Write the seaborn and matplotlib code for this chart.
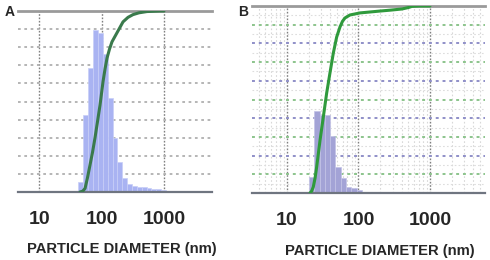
import numpy as np
import pandas as pd
import seaborn as sns
import matplotlib.pyplot as plt
from matplotlib.ticker import FixedLocator, LogLocator, NullFormatter, MultipleLocator

# ---- panel A : intensity distribution (bin centre in nm, relative height) ----
size_a = [46.7, 55.8, 66.8, 80.0, 95.7, 114.6, 137.1, 164.1, 196.3, 235.0,
          281.2, 336.5, 402.7, 482.0, 576.8, 690.2, 826.0, 988.5]
height_a = [0.055, 0.425, 0.685, 0.895, 0.88, 0.76, 0.52, 0.30, 0.165, 0.08,
            0.045, 0.035, 0.03, 0.025, 0.02, 0.018, 0.014, 0.01]
# cumulative curve A
cum_size_a = [45.3, 50.1, 54.5, 59.7, 65.5, 71.8, 78.7, 86.3, 94.6, 105.7, 113.8,
              122.5, 134.3, 147.2, 177.0, 220.8, 265.5, 319.2, 398.0, 534.6, 863.0, 1000.0]
cum_frac_a = [0.0, 0.005, 0.02, 0.08, 0.15, 0.22, 0.30, 0.39, 0.48, 0.61, 0.68,
              0.74, 0.79, 0.83, 0.88, 0.94, 0.965, 0.98, 0.99, 0.997, 1.0, 1.0]

# ---- panel B ----
size_b = [22.1, 26.2, 31.1, 36.9, 43.8, 51.9, 61.5, 72.9, 86.5, 102.6, 240.0, 284.0]
height_b = [0.085, 0.44, 0.417, 0.417, 0.305, 0.14, 0.08, 0.034, 0.025, 0.015, 0.008, 0.008]
cum_size_b = [21.0, 22.1, 23.3, 24.7, 26.0, 29.0, 32.2, 35.9, 39.9, 44.5, 49.5, 55.1,
              59.7, 64.7, 76.0, 105.0, 144.9, 200.0, 282.0, 405.5, 501.0, 560.0, 708.0, 1000.0]
cum_frac_b = [0.0, 0.01, 0.032, 0.08, 0.139, 0.283, 0.406, 0.535, 0.642, 0.749, 0.834, 0.888,
              0.918, 0.936, 0.952, 0.963, 0.968, 0.973, 0.978, 0.984, 0.992, 0.998, 1.0, 1.0]

tick_vals = [10, 100, 1000]
tick_text = ['10', '100', '1000']

sns.set_style("white")
plt.rcParams['font.family'] = ['Liberation Sans', 'DejaVu Sans']

fig = plt.figure(figsize=(4.9, 2.6), dpi=100)
ax_a = fig.add_axes([18 / 490, 68 / 260, 194 / 490, 181 / 260])
ax_b = fig.add_axes([252 / 490, 67 / 260, 233 / 490, 187 / 260])


def panel(ax, sizes, heights, b0, bw, nb, cx, cy, bar_c, edge_c, line_c, xlim, label_x):
    sns.histplot(x=sizes, weights=heights, log_scale=True, binwidth=bw,
                 binrange=(b0, b0 + bw * nb), color=bar_c, alpha=1,
                 edgecolor=edge_c, linewidth=0.5, ax=ax, zorder=2)
    sns.lineplot(x=cx, y=cy, color=line_c, lw=2.2, ax=ax, zorder=3)
    ax.set_xlim(*xlim)
    ax.set_ylim(0, 1)
    ax.set_ylabel('')
    ax.set_yticks(np.arange(0.1, 1.0, 0.1))
    ax.set_yticklabels([])
    ax.tick_params(axis='y', length=0)
    ax.xaxis.set_major_locator(FixedLocator(tick_vals))
    ax.set_xticklabels(tick_text, fontsize=14, fontweight='bold')
    ax.xaxis.set_minor_locator(LogLocator(base=10, subs=np.arange(2, 10)))
    ax.xaxis.set_minor_formatter(NullFormatter())
    ax.tick_params(axis='x', which='major', length=4, width=1, color='#888888', pad=10)
    ax.tick_params(axis='x', which='minor', length=3, width=0.8, color='#aaaaaa')
    ax.set_xlabel('PARTICLE DIAMETER (nm)', fontsize=10.6, fontweight='bold')
    ax.xaxis.set_label_coords(label_x, -0.275)
    for s in ['left', 'right']:
        ax.spines[s].set_visible(False)
    ax.spines['top'].set_color('#9a9a9a')
    ax.spines['top'].set_linewidth(2)
    ax.spines['bottom'].set_color('#6f7580')
    ax.spines['bottom'].set_linewidth(1.6)
    ax.set_axisbelow(True)


panel(ax_a, size_a, height_a, 1.63, 0.078, 19, cum_size_a, cum_frac_a,
      '#a9b3f2', '#c8cef7', '#3a7a4c', (4.6, 5870), 0.536)
panel(ax_b, size_b, height_b, 1.308, 0.074, 16, cum_size_b, cum_frac_b,
      '#a3a3d6', '#c3c3e6', '#2f9a3c', (3.24, 5880), 0.549)

# grids
ax_a.grid(axis='y', which='major', color='#b0b0b0', linestyle=(0, (1.5, 2)), lw=1.3)
ax_a.grid(axis='x', which='major', color='#808080', linestyle=(0, (1.2, 1.2)), lw=1.0)

ax_b.yaxis.set_minor_locator(MultipleLocator(0.05))
ax_b.grid(axis='y', which='minor', color='#dddddd', linestyle=(0, (1.5, 2)), lw=0.8)
ax_b.grid(axis='x', which='minor', color='#d8d8d8', linestyle=(0, (1.5, 2)), lw=0.8)
ax_b.grid(axis='y', which='major', linestyle=(0, (1.5, 2)), lw=1.4)
ax_b.grid(axis='x', which='major', color='#808080', linestyle=(0, (1.2, 1.2)), lw=1.0)
ax_b.tick_params(axis='y', which='minor', length=0)
for i, gl in enumerate(ax_b.yaxis.get_gridlines()):
    gl.set_color('#8cc48c' if i % 2 == 0 else '#8f8fc8')

fig.text(5 / 490, 1 - 12 / 260, 'A', fontsize=10, fontweight='bold', va='center')
fig.text(238 / 490, 1 - 12 / 260, 'B', fontsize=10, fontweight='bold', va='center')

fig.savefig('out.png', dpi=100)
